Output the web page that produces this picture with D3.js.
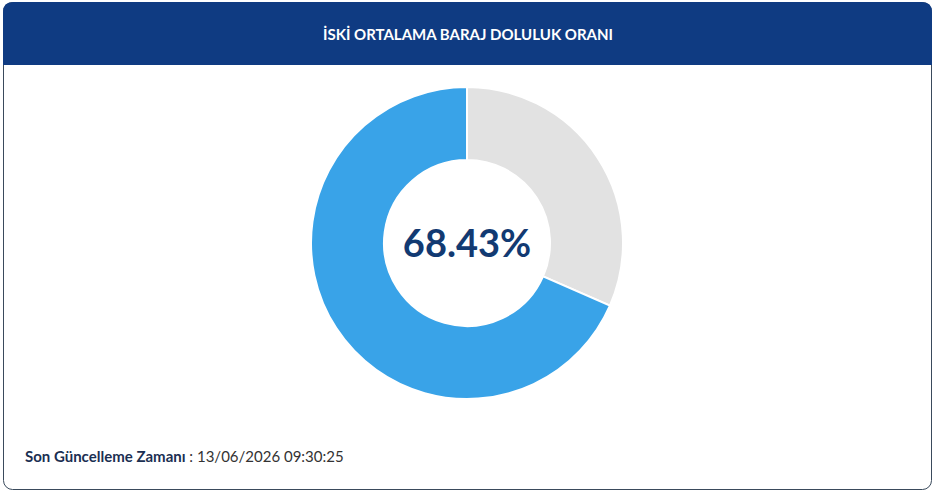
<!doctype html>
<html>
<head>
<meta charset="utf-8">
<style>
  body { margin:0; background:#fff; font-family: "Open Sans", Lato, sans-serif; }
</style>
</head>
<body>
<svg id="chart" width="936" height="493"></svg>
<script src="https://d3js.org/d3.v7.min.js"></script>
<script>
var title = "İSKİ ORTALAMA BARAJ DOLULUK ORANI";
var labels = ["Boş", "Dolu"];
var values = [31.57, 68.43];
var colors = ["#e2e2e2", "#39a3e8"];
var updateLabel = "Son Güncelleme Zamanı";
var updateTime = "13/06/2026 09:30:25";

var svg = d3.select("#chart");

// kart
svg.append("rect").attr("x", 3.5).attr("y", 2.5).attr("width", 928).attr("height", 487)
  .attr("rx", 9).attr("fill", "#fff").attr("stroke", "#3a4a5c").attr("stroke-width", 1);
// başlık
svg.append("path")
  .attr("d", "M3,65 V12 Q3,2 13,2 H922 Q932,2 932,12 V65 Z")
  .attr("fill", "#0f3b82");
svg.append("text").attr("x", 468).attr("y", 40).attr("text-anchor", "middle")
  .attr("fill", "#fff").attr("font-size", 15).attr("font-weight", 700)
  .attr("font-family", "Lato, sans-serif").text(title);

// halka
var g = svg.append("g").attr("transform", "translate(467,243)");
var pie = d3.pie().sort(null).value(function(d) { return d; });
var arc = d3.arc().innerRadius(83).outerRadius(156);
g.selectAll("path").data(pie(values)).enter().append("path")
  .attr("d", arc)
  .attr("fill", function(d, i) { return colors[i]; })
  .attr("stroke", "#fff").attr("stroke-width", 2);

g.append("text").attr("text-anchor", "middle").attr("y", 14)
  .attr("fill", "#123a72").attr("font-size", 38).attr("font-weight", 700)
  .attr("font-family", "Lato, sans-serif")
  .text(values[1].toFixed(2) + "%");

// alt bilgi
var t = svg.append("text").attr("x", 25).attr("y", 462).attr("font-size", 15)
  .attr("font-family", "Lato, sans-serif").attr("fill", "#1b2f52");
t.append("tspan").attr("font-weight", 700).text(updateLabel);
t.append("tspan").attr("fill", "#333").text(" : " + updateTime);
</script>
</body>
</html>
